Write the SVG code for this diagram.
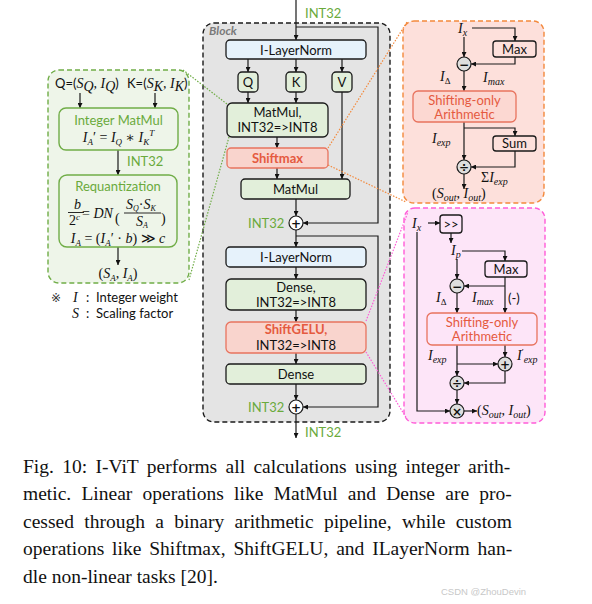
<svg xmlns="http://www.w3.org/2000/svg" width="592" height="604" viewBox="0 0 592 604">
<style>
.sans{font-family:Lato,"Open Sans","Liberation Sans",sans-serif;font-size:13px;fill:#111}
.mi{font-family:"Liberation Serif","DejaVu Serif",serif;font-style:italic;font-size:14px;fill:#111}
.up{font-style:normal}
.green{fill:#6aaa3c}
.red{fill:#e55a40}
.bold{font-weight:bold}
.box{stroke:#1a1a1a;stroke-width:1.3}
.gbox{fill:#e2efda}
.bbox{fill:#e6f2fb}
.rbox{fill:#f9d4cd;stroke:#e8735e;stroke-width:1.3}
.circ{fill:#fff;stroke:#1a1a1a;stroke-width:1.2}
.circg{fill:#dedede;stroke:#1a1a1a;stroke-width:1.2}
.ln{fill:none;stroke:#1a1a1a;stroke-width:1.2}
.arr{marker-end:url(#ah)}
.dot{fill:none;stroke-width:1.2;stroke-dasharray:1.5 1.5}
.cap{font-family:"Liberation Serif","Times New Roman",serif;font-size:19.5px;fill:#111}
.sym{font-family:"DejaVu Sans",sans-serif;font-size:12px;font-weight:bold;fill:#111;text-anchor:middle}
</style>
<defs>
<marker id="ah" viewBox="0 0 6 6" refX="6" refY="3" markerWidth="5" markerHeight="5" markerUnits="userSpaceOnUse" orient="auto"><path d="M0,0 L6,3 L0,6 z" fill="#111"/></marker>
</defs>
<rect width="592" height="604" fill="#fff"/>

<!-- backgrounds -->
<g id="block">
<rect x="203" y="23" width="187" height="399" rx="11" fill="#e4e4e4" stroke="#1a1a1a" stroke-width="1.4" stroke-dasharray="5 3"/>
<text x="209" y="35" font-family="Lato,'Liberation Sans',sans-serif" font-size="12" font-weight="bold" font-style="italic" fill="#7a7a7a">Block</text>
</g>
<g id="panel-intmatmul">
<rect x="48" y="70" width="141" height="213" rx="11" fill="#eef5e9" stroke="#70ad47" stroke-width="1.4" stroke-dasharray="5 3"/>
</g>
<g id="panel-shiftmax">
<rect x="403" y="21" width="141" height="182" rx="11" fill="#fde0db" stroke="#f3893c" stroke-width="1.4" stroke-dasharray="5 3"/>
</g>
<g id="panel-shiftgelu">
<rect x="404" y="208" width="141" height="215" rx="11" fill="#fde5f8" stroke="#ff5cd8" stroke-width="1.4" stroke-dasharray="5 3"/>
</g>

<!-- connectors -->
<g id="connectors">
<path class="ln arr" d="M296,0 V40"/>
<path class="ln arr" d="M296,27 H378 V223 H303"/>
<path class="ln arr" d="M248,59 V72"/>
<path class="ln arr" d="M296,59 V72"/>
<path class="ln arr" d="M342,59 V72"/>
<path class="ln arr" d="M248,92 V103"/>
<path class="ln arr" d="M296,92 V103"/>
<path class="ln arr" d="M342,92 V179"/>
<path class="ln arr" d="M277,137 V148"/>
<path class="ln arr" d="M277,168 V179"/>
<path class="ln arr" d="M296,199 V216"/>
<path class="ln arr" d="M296,230 V247"/>
<path class="ln arr" d="M296,236 H378 V407 H303"/>
<path class="ln arr" d="M296,267 V279"/>
<path class="ln arr" d="M296,310 V322"/>
<path class="ln arr" d="M296,353 V364"/>
<path class="ln arr" d="M296,384 V400"/>
<path class="ln arr" d="M296,414 V438"/>

<path class="ln arr" d="M80,93 V108"/>
<path class="ln arr" d="M155,93 V108"/>
<path class="ln arr" d="M118,150 V175"/>
<path class="ln arr" d="M118,247 V265"/>

<path class="ln arr" d="M472,28 H515 V41"/>
<path class="ln arr" d="M464,37 V57"/>
<path class="ln arr" d="M515,57 V64 H471"/>
<path class="ln arr" d="M464,71 V91"/>
<path class="ln arr" d="M464,122 V160"/>
<path class="ln arr" d="M464,128 H515 V136"/>
<path class="ln arr" d="M515,151 V167 H471"/>
<path class="ln arr" d="M464,174 V189"/>

<path class="ln arr" d="M428,223 H440"/>
<path class="ln arr" d="M451,233 V243"/>
<path class="ln arr" d="M462,251 H505 V261"/>
<path class="ln arr" d="M457,259 V279"/>
<path class="ln arr" d="M505,277 V313"/>
<path class="ln arr" d="M505,286 H464"/>
<path class="ln arr" d="M457,293 V313"/>
<path class="ln arr" d="M457,345 V376"/>
<path class="ln arr" d="M457,364 H498"/>
<path class="ln arr" d="M505,345 V357"/>
<path class="ln arr" d="M505,371 V383 H464"/>
<path class="ln arr" d="M457,390 V404"/>
<path class="ln arr" d="M417,232 V411 H450"/>
<path class="ln arr" d="M464,411 H477"/>

<path class="dot" stroke="#70ad47" d="M183,70 L227,104"/>
<path class="dot" stroke="#70ad47" d="M189,280 L229,137"/>
<path class="dot" stroke="#f3893c" d="M328,148 L407,22"/>
<path class="dot" stroke="#f3893c" d="M328,165 L406,202"/>
<path class="dot" stroke="#ff5cd8" d="M366,321 L408,212"/>
<path class="dot" stroke="#ff5cd8" d="M366,352 L407,419"/>
</g>

<!-- block nodes -->
<text class="sans green" x="305" y="18" font-size="12.5">INT32</text>
<g id="ilayernorm1"><rect class="box bbox" x="226" y="40" width="140" height="19" rx="4"/><text class="sans" x="296" y="54.5" text-anchor="middle">I-LayerNorm</text></g>
<g id="q"><rect class="box gbox" x="238" y="72" width="20" height="20" rx="4"/><text class="sans" x="248" y="86.5" text-anchor="middle">Q</text></g>
<g id="k"><rect class="box gbox" x="286" y="72" width="20" height="20" rx="4"/><text class="sans" x="296" y="86.5" text-anchor="middle">K</text></g>
<g id="v"><rect class="box gbox" x="332" y="72" width="20" height="20" rx="4"/><text class="sans" x="342" y="86.5" text-anchor="middle">V</text></g>
<g id="matmul1"><rect class="box gbox" x="227" y="103" width="101" height="34" rx="5"/><text class="sans" x="277.5" y="117" text-anchor="middle">MatMul,</text><text class="sans" x="277.5" y="132" text-anchor="middle">INT32=&gt;INT8</text></g>
<g id="shiftmax"><rect class="rbox" x="227" y="148" width="101" height="20" rx="4"/><text class="sans red bold" x="277.5" y="163" text-anchor="middle">Shiftmax</text></g>
<g id="matmul2"><rect class="box gbox" x="241" y="179" width="109" height="20" rx="4"/><text class="sans" x="295.5" y="194" text-anchor="middle">MatMul</text></g>
<g id="add1"><circle class="circ" cx="296" cy="223" r="7"/><text class="sym" x="296" y="227.5">+</text><text class="sans green" x="248" y="228" font-size="12.5">INT32</text></g>
<g id="ilayernorm2"><rect class="box bbox" x="226" y="247" width="140" height="20" rx="4"/><text class="sans" x="296" y="262" text-anchor="middle">I-LayerNorm</text></g>
<g id="dense1"><rect class="box gbox" x="226" y="279" width="140" height="31" rx="5"/><text class="sans" x="296" y="292" text-anchor="middle">Dense,</text><text class="sans" x="296" y="307" text-anchor="middle">INT32=&gt;INT8</text></g>
<g id="shiftgelu"><rect class="rbox" x="226" y="322" width="140" height="31" rx="5"/><text class="sans red bold" x="296" y="334" text-anchor="middle">ShiftGELU,</text><text class="sans" x="296" y="350" text-anchor="middle">INT32=&gt;INT8</text></g>
<g id="dense2"><rect class="box gbox" x="226" y="364" width="140" height="20" rx="4"/><text class="sans" x="296" y="379" text-anchor="middle">Dense</text></g>
<g id="add2"><circle class="circ" cx="296" cy="407" r="7"/><text class="sym" x="296" y="411.5">+</text><text class="sans green" x="248" y="412" font-size="12.5">INT32</text></g>
<text class="sans green" x="305" y="437" font-size="12.5">INT32</text>

<!-- left panel nodes -->
<g id="qk-inputs">
<text class="sans" x="55" y="88">Q=(<tspan class="mi">S</tspan><tspan class="mi" font-size="9" dy="3">Q</tspan><tspan class="mi" dy="-3">, I</tspan><tspan class="mi" font-size="9" dy="3">Q</tspan><tspan dy="-3">)</tspan></text>
<text class="sans" x="127" y="88">K=(<tspan class="mi">S</tspan><tspan class="mi" font-size="9" dy="3">K</tspan><tspan class="mi" dy="-3">, I</tspan><tspan class="mi" font-size="9" dy="3">K</tspan><tspan dy="-3">)</tspan></text>
</g>
<g id="integer-matmul">
<rect x="59" y="108" width="119" height="42" rx="7" fill="#eef5e9" stroke="#70ad47" stroke-width="1.4"/>
<text class="sans green" x="118.5" y="125" text-anchor="middle" font-size="13.5">Integer MatMul</text>
<text class="mi" x="118.5" y="142" text-anchor="middle">I<tspan font-size="9" dy="3">A</tspan><tspan dy="-3" class="up">′ = </tspan>I<tspan font-size="9" dy="3">Q</tspan><tspan dy="-3" class="up"> ∗ </tspan>I<tspan font-size="9" dy="3">K</tspan><tspan font-size="9" dy="-9">T</tspan></text>
</g>
<text class="sans green" x="127" y="166" font-size="12.5">INT32</text>
<g id="requantization">
<rect x="59" y="175" width="118" height="72" rx="8" fill="#eef5e9" stroke="#70ad47" stroke-width="1.4"/>
<text class="sans green" x="118" y="191" text-anchor="middle" font-size="13.5">Requantization</text>
<text class="mi" x="74" y="209" font-size="13">b</text>
<line x1="68" y1="212.5" x2="84" y2="212.5" stroke="#111" stroke-width="0.9"/>
<text class="mi" x="69" y="225" font-size="13"><tspan class="up">2</tspan><tspan font-size="9" dy="-5">c</tspan></text>
<text class="mi" x="82" y="218" font-size="13.5"><tspan class="up">= </tspan>DN</text>
<text class="mi up" x="115" y="223" font-size="24" font-style="normal">(</text>
<text class="mi" x="126" y="209" font-size="11">S<tspan font-size="8" dy="2">Q</tspan><tspan dy="-2" class="up">·</tspan>S<tspan font-size="8" dy="2">K</tspan></text>
<line x1="124" y1="213" x2="161" y2="213" stroke="#111" stroke-width="0.9"/>
<text class="mi" x="136" y="226" font-size="11">S<tspan font-size="8" dy="2">A</tspan></text>
<text class="mi up" x="161" y="223" font-size="24" font-style="normal">)</text>
<text class="mi" x="118" y="243" text-anchor="middle">I<tspan font-size="9" dy="3">A</tspan><tspan dy="-3" class="up"> = (</tspan>I<tspan font-size="9" dy="3">A</tspan><tspan dy="-3" class="up">′ · </tspan>b<tspan class="up">) ≫ </tspan>c</text>
</g>
<g id="requant-output"><text class="mi" x="118" y="278" text-anchor="middle"><tspan class="up">(</tspan>S<tspan font-size="9" dy="3">A</tspan><tspan dy="-3" class="up">, </tspan>I<tspan font-size="9" dy="3">A</tspan><tspan dy="-3" class="up">)</tspan></text></g>
<g id="legend">
<text x="51" y="302" font-family="'DejaVu Sans',sans-serif" font-size="12" fill="#333">※</text>
<text class="mi" x="73" y="302">I</text>
<text class="sans" x="86" y="302">:</text>
<text class="sans" x="96" y="302">Integer weight</text>
<text class="mi" x="72" y="318">S</text>
<text class="sans" x="86" y="318">:</text>
<text class="sans" x="96" y="318">Scaling factor</text>
</g>

<!-- Shiftmax detail -->
<g id="sm-labels">
<text class="mi" x="458" y="33">I<tspan font-size="10" dy="3">x</tspan></text>
<text class="mi" x="440" y="81">I<tspan font-size="9" dy="3" class="up">Δ</tspan></text>
<text class="mi" x="483" y="82">I<tspan font-size="10" dy="3">max</tspan></text>
<text class="mi" x="432" y="143">I<tspan font-size="10" dy="3">exp</tspan></text>
<text class="mi" x="481" y="182"><tspan class="up">Σ</tspan>I<tspan font-size="10" dy="3">exp</tspan></text>
<text class="mi" x="432" y="198"><tspan class="up">(</tspan>S<tspan font-size="10" dy="3">out</tspan><tspan dy="-3" class="up">, </tspan>I<tspan font-size="10" dy="3">out</tspan><tspan dy="-3" class="up">)</tspan></text>
</g>
<g id="sm-max"><rect class="box" fill="#fde0db" x="493" y="41" width="43" height="16" rx="3"/><text class="sans" x="514.5" y="53.5" text-anchor="middle" font-size="12">Max</text></g>
<g id="sm-sub"><circle class="circg" cx="464" cy="64" r="7"/><text class="sym" x="464" y="68.5">−</text></g>
<g id="sm-shift"><rect x="413" y="91" width="103" height="31" rx="5" fill="#fcd8d2" stroke="#e8735e" stroke-width="1.3"/><text class="sans red" x="464.5" y="104.5" text-anchor="middle">Shifting-only</text><text class="sans red" x="464.5" y="119" text-anchor="middle">Arithmetic</text></g>
<g id="sm-sum"><rect class="box" fill="#fde0db" x="493" y="136" width="43" height="15" rx="3"/><text class="sans" x="514.5" y="148" text-anchor="middle" font-size="12">Sum</text></g>
<g id="sm-div"><circle class="circg" cx="464" cy="167" r="7"/><text class="sym" x="464" y="171.5">÷</text></g>

<!-- ShiftGELU detail -->
<g id="sg-labels">
<text class="mi" x="412" y="228">I<tspan font-size="10" dy="3">x</tspan></text>
<text class="mi" x="451" y="255">I<tspan font-size="10" dy="3">p</tspan></text>
<text class="mi" x="436" y="302">I<tspan font-size="9" dy="3" class="up">Δ</tspan></text>
<text class="mi" x="472" y="302">I<tspan font-size="10" dy="3">max</tspan></text>
<text class="sans" x="508" y="303">(-)</text>
<text class="mi" x="428" y="360">I<tspan font-size="10" dy="3">exp</tspan></text>
<text class="mi" x="517" y="360">I<tspan font-size="9" dy="-5" class="up">′</tspan><tspan font-size="10" dy="8">exp</tspan></text>
<text class="mi" x="477" y="415"><tspan class="up">(</tspan>S<tspan font-size="10" dy="3">out</tspan><tspan dy="-3" class="up">, </tspan>I<tspan font-size="10" dy="3">out</tspan><tspan dy="-3" class="up">)</tspan></text>
</g>
<g id="sg-shift-right"><rect class="box" fill="#fde5f8" x="440" y="215" width="22" height="18" rx="3"/><text class="sans" x="451" y="228.5" text-anchor="middle" font-size="12">&gt;&gt;</text></g>
<g id="sg-max"><rect class="box" fill="#fde5f8" x="485" y="261" width="42" height="16" rx="3"/><text class="sans" x="506" y="273.5" text-anchor="middle" font-size="12">Max</text></g>
<g id="sg-sub"><circle class="circg" cx="457" cy="286" r="7"/><text class="sym" x="457" y="290.5">−</text></g>
<g id="sg-shift"><rect x="427" y="313" width="110" height="32" rx="5" fill="#fde5f8" stroke="#e8735e" stroke-width="1.3"/><text class="sans red" x="482" y="326.5" text-anchor="middle">Shifting-only</text><text class="sans red" x="482" y="341" text-anchor="middle">Arithmetic</text></g>
<g id="sg-add"><circle class="circg" cx="505" cy="364" r="7"/><text class="sym" x="505" y="368.5" font-size="11">+</text></g>
<g id="sg-div"><circle class="circg" cx="457" cy="383" r="7"/><text class="sym" x="457" y="387.5">÷</text></g>
<g id="sg-mul"><circle class="circg" cx="457" cy="411" r="7"/><text class="sym" x="457" y="415.5">×</text></g>

<!-- caption -->
<g id="caption">
<text class="cap" x="23" y="473" word-spacing="3.5">Fig. 10: I-ViT performs all calculations using integer arith-</text>
<text class="cap" x="23" y="500" word-spacing="5.4">metic. Linear operations like MatMul and Dense are pro-</text>
<text class="cap" x="23" y="528" word-spacing="5.5">cessed through a binary arithmetic pipeline, while custom</text>
<text class="cap" x="23" y="555" word-spacing="3.0">operations like Shiftmax, ShiftGELU, and ILayerNorm han-</text>
<text class="cap" x="23" y="583">dle non-linear tasks [20].</text>
<text x="441" y="595" font-family="'Liberation Sans',sans-serif" font-size="9.5" fill="#c8c8c8">CSDN @ZhouDevin</text>
</g>
</svg>
